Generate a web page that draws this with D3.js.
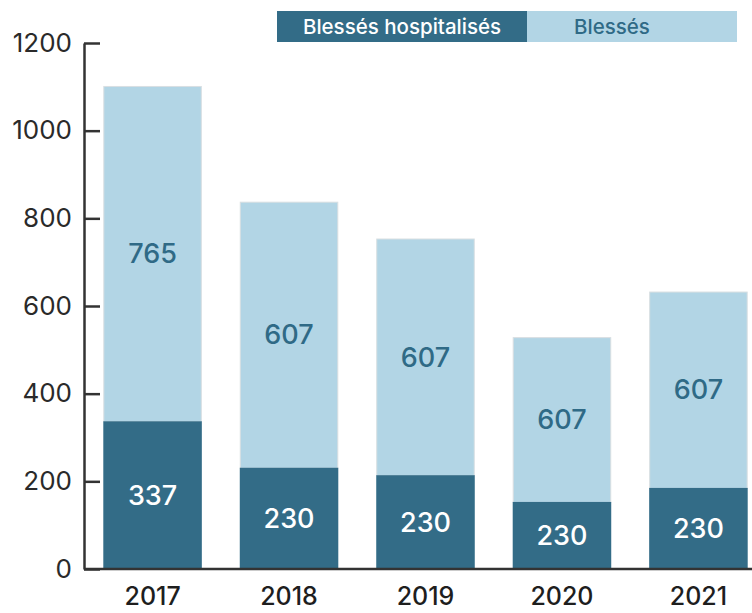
<!DOCTYPE html>
<html>
<head>
<meta charset="utf-8">
<script src="https://cdn.jsdelivr.net/npm/d3@7"></script>
<style>
  html, body { margin: 0; padding: 0; background: #fff; }
  svg { display: block; font-family: Inter, "Open Sans", sans-serif; }
</style>
</head>
<body>
<svg id="chart" width="752" height="613"></svg>
<script>
// ---- data ----
const years = ["2017", "2018", "2019", "2020", "2021"];
const hospitalises = [337, 231, 214, 153, 185];
const blesses = [765, 607, 540, 376, 448];
const hospLabels = ["337", "230", "230", "230", "230"];
const blessesLabels = ["765", "607", "607", "607", "607"];
const seriesNames = ["Blessés hospitalisés", "Blessés"];
const yTicks = [0, 200, 400, 600, 800, 1000, 1200];

// ---- style ----
const darkColor = "#336c87";
const lightColor = "#b2d5e5";
const axisColor = "#333333";
const FONT = "Inter, 'Open Sans', sans-serif";

const svg = d3.select("#chart");
const W = 752, H = 613;
const margin = { left: 84, top: 43 };
const baseY = 569;

const x = d3.scaleBand()
  .domain(years)
  .range([103.3, 747.7])
  .paddingInner(0.278)
  .paddingOuter(0);

const y = d3.scaleLinear()
  .domain([0, 1200])
  .range([baseY, margin.top]);

const rows = years.map((yr, i) => ({
  year: yr,
  h: hospitalises[i],
  b: blesses[i],
  hl: hospLabels[i],
  bl: blessesLabels[i]
}));

const g = svg.append("g");

g.selectAll("rect.light").data(rows).join("rect")
  .attr("class", "light")
  .attr("x", d => x(d.year) + 0.5)
  .attr("y", d => y(d.h + d.b) + 0.5)
  .attr("width", x.bandwidth() - 1)
  .attr("height", d => y(d.h) - y(d.h + d.b))
  .attr("fill", lightColor)
  .attr("stroke", "#d9dfe2")
  .attr("stroke-width", 1);

g.selectAll("rect.dark").data(rows).join("rect")
  .attr("class", "dark")
  .attr("x", d => x(d.year))
  .attr("y", d => y(d.h))
  .attr("width", x.bandwidth())
  .attr("height", d => y(0) - y(d.h))
  .attr("fill", darkColor);

// value labels
g.selectAll("text.lbl-light").data(rows).join("text")
  .attr("class", "lbl-light")
  .attr("x", d => x(d.year) + x.bandwidth() / 2)
  .attr("y", d => (y(d.h + d.b) + y(d.h)) / 2)
  .attr("dy", "0.36em")
  .attr("text-anchor", "middle")
  .attr("font-family", FONT)
  .attr("font-size", 27)
  .attr("font-weight", 500)
  .attr("fill", "#2f6a86")
  .text(d => d.bl);

g.selectAll("text.lbl-dark").data(rows).join("text")
  .attr("class", "lbl-dark")
  .attr("x", d => x(d.year) + x.bandwidth() / 2)
  .attr("y", d => (y(d.h) + y(0)) / 2)
  .attr("dy", "0.36em")
  .attr("text-anchor", "middle")
  .attr("font-family", FONT)
  .attr("font-size", 27)
  .attr("font-weight", 500)
  .attr("fill", "#ffffff")
  .text(d => d.hl);

// y axis
const yAxis = d3.axisLeft(y)
  .tickValues(yTicks)
  .tickFormat(d3.format("d"))
  .tickSizeInner(-16)
  .tickSizeOuter(0)
  .tickPadding(12);

const ya = svg.append("g")
  .attr("transform", `translate(${margin.left},0)`)
  .call(yAxis);
ya.select(".domain").attr("stroke", axisColor).attr("stroke-width", 2.5);
ya.selectAll(".tick line").attr("stroke", axisColor).attr("stroke-width", 2.5);
ya.selectAll(".tick text")
  .attr("font-size", 26)
  .attr("font-family", FONT)
  .attr("fill", "#2a2a2a");

// x baseline + year labels
const xAxis = d3.axisBottom(x).tickSize(0).tickPadding(0);
const xa = svg.append("g")
  .attr("transform", `translate(0,${baseY})`)
  .call(xAxis);
xa.select(".domain").attr("d", `M${margin.left},0H${W}`)
  .attr("stroke", axisColor).attr("stroke-width", 2.5);
xa.selectAll(".tick text")
  .attr("y", 36)
  .attr("dy", null)
  .attr("font-size", 25)
  .attr("font-weight", 500)
  .attr("font-family", FONT)
  .attr("fill", "#1e1e1e");

// legend
const legend = svg.append("g");
const legendItems = [
  { name: seriesNames[0], fill: darkColor, text: "#ffffff", x0: 277, x1: 527, tx: 402 },
  { name: seriesNames[1], fill: lightColor, text: "#2f6a86", x0: 527, x1: 737, tx: 612 }
];
legend.selectAll("rect").data(legendItems).join("rect")
  .attr("x", d => d.x0)
  .attr("y", 11)
  .attr("width", d => d.x1 - d.x0)
  .attr("height", 31)
  .attr("fill", d => d.fill);
legend.selectAll("text").data(legendItems).join("text")
  .attr("x", d => d.tx)
  .attr("y", 33.5)
  .attr("text-anchor", "middle")
  .attr("font-family", FONT)
  .attr("font-size", 20.5)
  .attr("font-weight", 500)
  .attr("fill", d => d.text)
  .text(d => d.name);
</script>
</body>
</html>
